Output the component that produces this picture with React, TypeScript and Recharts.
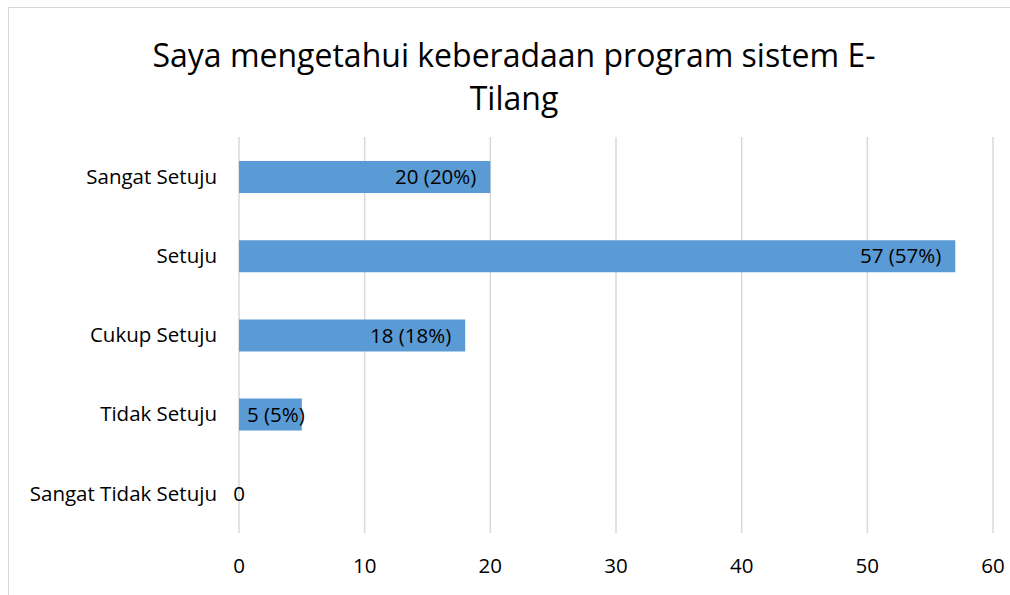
import React from "react";
import { BarChart, Bar, XAxis, YAxis, CartesianGrid, LabelList, ReferenceDot } from "recharts";

const TITLE_LINES = ["Saya mengetahui keberadaan program sistem E-", "Tilang"];
const categories = ["Sangat Setuju", "Setuju", "Cukup Setuju", "Tidak Setuju", "Sangat Tidak Setuju"];
const counts = [20, 57, 18, 5, 0];
const xTicks = [0, 10, 20, 30, 40, 50, 60];

const total = counts.reduce((a, b) => a + b, 0);
const data = categories.map((c, i) => ({ name: c, value: counts[i] }));

const FONT = "'Open Sans', sans-serif";
const FS = 20.5;
const BLUE = "#5B9BD5";

const renderLabel = (props: any) => {
  const { x, y, width, height, value } = props;
  if (!value) return null;
  const cy = y + height / 2;
  const pct = Math.round((value / total) * 100);
  const label = `${value} (${pct}%)`;
  const estW = label.length * 10.5;
  const endX = x + width - 14;
  if (endX - estW < x + 8) {
    return (
      <text x={x + 8} y={cy} dy="0.35em" textAnchor="start" fontSize={FS} fontFamily={FONT} fill="#000">
        {label}
      </text>
    );
  }
  return (
    <text x={endX} y={cy} dy="0.35em" textAnchor="end" fontSize={FS} fontFamily={FONT} fill="#000">
      {label}
    </text>
  );
};

const ZeroLabel = (props: any) => {
  const { viewBox } = props;
  const cx = viewBox.x + (viewBox.width || 0) / 2;
  const cy = viewBox.y + (viewBox.height || 0) / 2;
  return (
    <text x={cx} y={cy} dy="0.35em" textAnchor="middle" fontSize={FS} fontFamily={FONT} fill="#000">
      0
    </text>
  );
};

export default function App() {
  return (
    <div
      style={{
        position: "fixed",
        left: 8,
        top: 7,
        width: 1010,
        height: 600,
        overflow: "hidden",
        borderTop: "1px solid #d9d9d9",
        borderLeft: "1px solid #d9d9d9",
        background: "#fff",
        fontFamily: FONT,
      }}
    >
      <div
        style={{
          position: "absolute",
          left: 0,
          top: 25,
          width: 1010,
          textAlign: "center",
          fontSize: 32,
          lineHeight: "43px",
          color: "#000",
        }}
      >
        {TITLE_LINES.map((l, i) => (
          <div key={i}>{l}</div>
        ))}
      </div>
      <div style={{ position: "absolute", left: 0, top: 0 }}>
        <BarChart
          width={1010}
          height={588}
          data={data}
          layout="vertical"
          margin={{ top: 129, right: 26, bottom: 0, left: 0 }}
        >
          <CartesianGrid horizontal={false} stroke="#d9d9d9" strokeWidth={1.5} />
          <XAxis
            type="number"
            domain={[0, 60]}
            ticks={xTicks}
            axisLine={false}
            tickLine={false}
            tickSize={0}
            tickMargin={25}
            height={63}
            tick={{ fontSize: FS, fontFamily: FONT, fill: "#000" }}
            interval={0}
          />
          <YAxis
            type="category"
            dataKey="name"
            width={230}
            axisLine={false}
            tickLine={false}
            tickSize={0}
            tickMargin={22}
            tick={{ fontSize: FS, fontFamily: FONT, fill: "#000" }}
            interval={0}
          />
          <Bar dataKey="value" fill={BLUE} barSize={32} isAnimationActive={false}>
            <LabelList dataKey="value" content={renderLabel} />
          </Bar>
          {data
            .filter((d) => d.value === 0)
            .map((d) => (
              <ReferenceDot
                key={d.name}
                x={0}
                y={d.name}
                r={1}
                fill="none"
                stroke="none"
                label={<ZeroLabel />}
              />
            ))}
        </BarChart>
      </div>
    </div>
  );
}
